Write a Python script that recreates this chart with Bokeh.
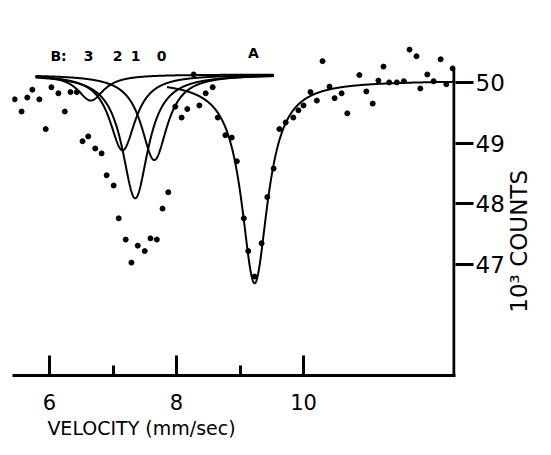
import numpy as np
from bokeh.plotting import figure
from bokeh.models import FixedTicker, Label
from bokeh.embed import file_html
from bokeh.resources import INLINE

# measured points: velocity (mm/sec) and counts (10^3)
velocity = [5.45, 5.56, 5.65, 5.73, 5.84, 5.94, 6.03, 6.14, 6.24, 6.33, 6.43,
            6.52, 6.61, 6.72, 6.82, 6.90, 7.01, 7.09, 7.20, 7.29, 7.39, 7.50,
            7.59, 7.69, 7.78, 7.87, 7.98, 8.08, 8.17, 8.27, 8.36, 8.46, 8.57,
            8.65, 8.77, 8.87, 8.95, 9.06, 9.13, 9.23, 9.34, 9.43, 9.53, 9.62,
            9.72, 9.84, 9.92, 10.00, 10.11, 10.21, 10.30, 10.41, 10.49, 10.60,
            10.69, 10.88, 10.99, 11.09, 11.18, 11.26, 11.35, 11.47, 11.58,
            11.67, 11.78, 11.84, 11.95, 12.05, 12.16, 12.25, 12.35]
counts = [49.72, 49.52, 49.75, 49.88, 49.72, 49.23, 49.92, 49.82, 49.52, 49.84,
          49.84, 49.03, 49.11, 48.91, 48.83, 48.47, 48.30, 47.76, 47.41, 47.03,
          47.31, 47.22, 47.43, 47.41, 47.92, 48.19, 49.60, 49.42, 49.56, 50.13,
          49.62, 49.82, 49.92, 49.42, 49.13, 49.09, 48.70, 47.76, 47.22, 46.80,
          47.35, 48.11, 48.58, 49.23, 49.34, 49.42, 49.54, 49.62, 49.84, 49.70,
          50.35, 49.93, 49.74, 49.82, 49.49, 50.12, 49.85, 49.65, 50.03, 50.26,
          50.00, 50.00, 50.02, 50.54, 50.43, 49.90, 50.13, 50.02, 50.38, 49.97,
          50.23]

# fitted Lorentzian components
b_labels = ["3", "2", "1", "0"]
b_center = [6.65, 7.15, 7.35, 7.65]
b_minimum = [49.70, 48.88, 48.09, 48.72]
b_baseline = 50.13
b_hwhm = 0.25
b_span = [5.78, 9.53]

a_center = 9.23
a_minimum = 46.69
a_baseline = 50.03
a_hwhm = 0.252
a_span = [7.85, 12.394]

x_ticks = [6, 8, 10]
x_minor = [7, 9]
y_ticks = [47, 48, 49, 50]

X_LO, X_HI = 5.417, 12.394
Y_LO, Y_HI = 45.17, 50.69
AXIS_TOP = 50.23

FONT = "DejaVu Sans"


def lorentz(v, c, depth, base, w):
    return base - depth / (1.0 + ((v - c) / w) ** 2)


p = figure(width=535, height=439, x_range=(X_LO, X_HI), y_range=(Y_LO, Y_HI),
           output_backend="svg", toolbar_location=None, y_axis_location="right",
           min_border_left=12, min_border_right=80, min_border_top=40,
           min_border_bottom=64)
p.grid.visible = False
p.outline_line_color = None
p.background_fill_color = "white"

# x axis
xa = p.xaxis[0]
xa.ticker = FixedTicker(ticks=x_ticks, minor_ticks=x_minor)
xa.major_tick_in = 20
xa.major_tick_out = 0
xa.minor_tick_in = 10
xa.minor_tick_out = 0
xa.major_tick_line_width = 3
xa.minor_tick_line_width = 3
xa.axis_line_width = 3
xa.major_tick_line_color = "black"
xa.minor_tick_line_color = "black"
xa.axis_line_color = "black"
xa.major_label_text_font = FONT
xa.major_label_text_font_size = "21px"
xa.major_label_text_color = "black"
xa.major_label_standoff = 18

# y axis (right)
ya = p.yaxis[0]
ya.ticker = FixedTicker(ticks=y_ticks)
ya.major_tick_out = 18
ya.major_tick_in = 0
ya.minor_tick_line_color = None
ya.major_tick_line_width = 3
ya.major_tick_line_color = "black"
ya.axis_line_color = None
ya.major_label_text_font = FONT
ya.major_label_text_font_size = "23px"
ya.major_label_text_color = "black"
ya.major_label_standoff = 2

# vertical axis line (shorter than frame)
xv = X_HI - 1.5 / 63.5
p.line([xv, xv], [Y_LO, AXIS_TOP], line_color="black", line_width=3)

# component curves
vb = np.linspace(b_span[0], b_span[1], 800)
for c, m in zip(b_center, b_minimum):
    p.line(vb, lorentz(vb, c, b_baseline - m, b_baseline, b_hwhm),
           line_color="black", line_width=2)

va = np.linspace(a_span[0], a_span[1], 800)
p.line(va, lorentz(va, a_center, a_baseline - a_minimum, a_baseline, a_hwhm),
       line_color="black", line_width=2)

# data points
p.scatter(velocity, counts, size=5, color="black")


def vx(X):
    return 6 + (X - 49) / 63.5


def cy(Y):
    return 50 - (Y - 82) / 60.7


lab_style = dict(text_font=FONT, text_color="black", text_align="center",
                 text_baseline="middle")

p.add_layout(Label(x=vx(141), y=cy(428), text="VELOCITY (mm/sec)",
                   text_font_size="19px", **lab_style), "above")
p.add_layout(Label(x=vx(519), y=cy(241), text="10³ COUNTS", angle=np.pi / 2,
                   text_font_size="23px", **lab_style), "right")

top_style = dict(text_font=FONT, text_color="black", text_align="center",
                 text_baseline="middle", text_font_size="14px",
                 text_font_style="bold")
p.add_layout(Label(x=vx(58), y=cy(56), text="B:", **top_style))
for lab, X in zip(b_labels, [88, 117, 135, 161]):
    p.add_layout(Label(x=vx(X), y=cy(56), text=lab, **top_style))
p.add_layout(Label(x=vx(253), y=cy(53), text="A", **top_style))

open("out.html", "w").write(file_html(p, INLINE))
